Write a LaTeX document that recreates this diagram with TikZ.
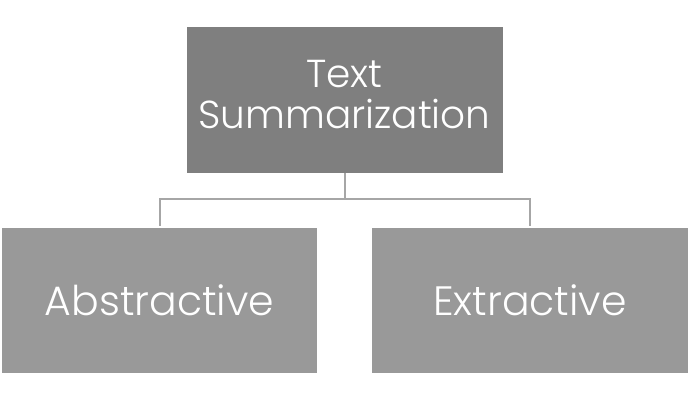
\documentclass[tikz,border=0pt]{standalone}
\usepackage{fontspec}
\setmainfont{Poppins Light}
\usetikzlibrary{positioning}
\definecolor{topgray}{HTML}{7F7F7F}
\definecolor{subgray}{HTML}{999999}
\definecolor{linegray}{HTML}{A6A6A6}
\tikzset{
  box/.style={draw=none, minimum width=316pt, minimum height=145pt, inner sep=0pt,
    text=white, font=\fontsize{41}{38}\selectfont, align=center},
  conn/.style={draw=linegray, line width=2pt},
}
\begin{document}
\begin{tikzpicture}[x=1pt,y=1pt]
\useasboundingbox (0,0) rectangle (690,-401);
\node[box, fill=topgray, font=\fontsize{39}{37}\selectfont] (top) at (344.5,-100)
  {\raisebox{6pt}{\begin{tabular}{@{}c@{}}Text\\Summarization\end{tabular}}};
\node[box, fill=subgray, minimum width=315pt] (left) at (159.5,-300.5) {Abstractive};
\node[box, fill=subgray] (right) at (530,-300.5) {Extractive};
\coordinate (mid) at (344.5,-199);
\draw[conn] (top.south) -- (mid);
\draw[conn, shorten >=2pt] (mid) -| (left.north);
\draw[conn, shorten >=2pt] (mid) -| (right.north);
\end{tikzpicture}
\end{document}
